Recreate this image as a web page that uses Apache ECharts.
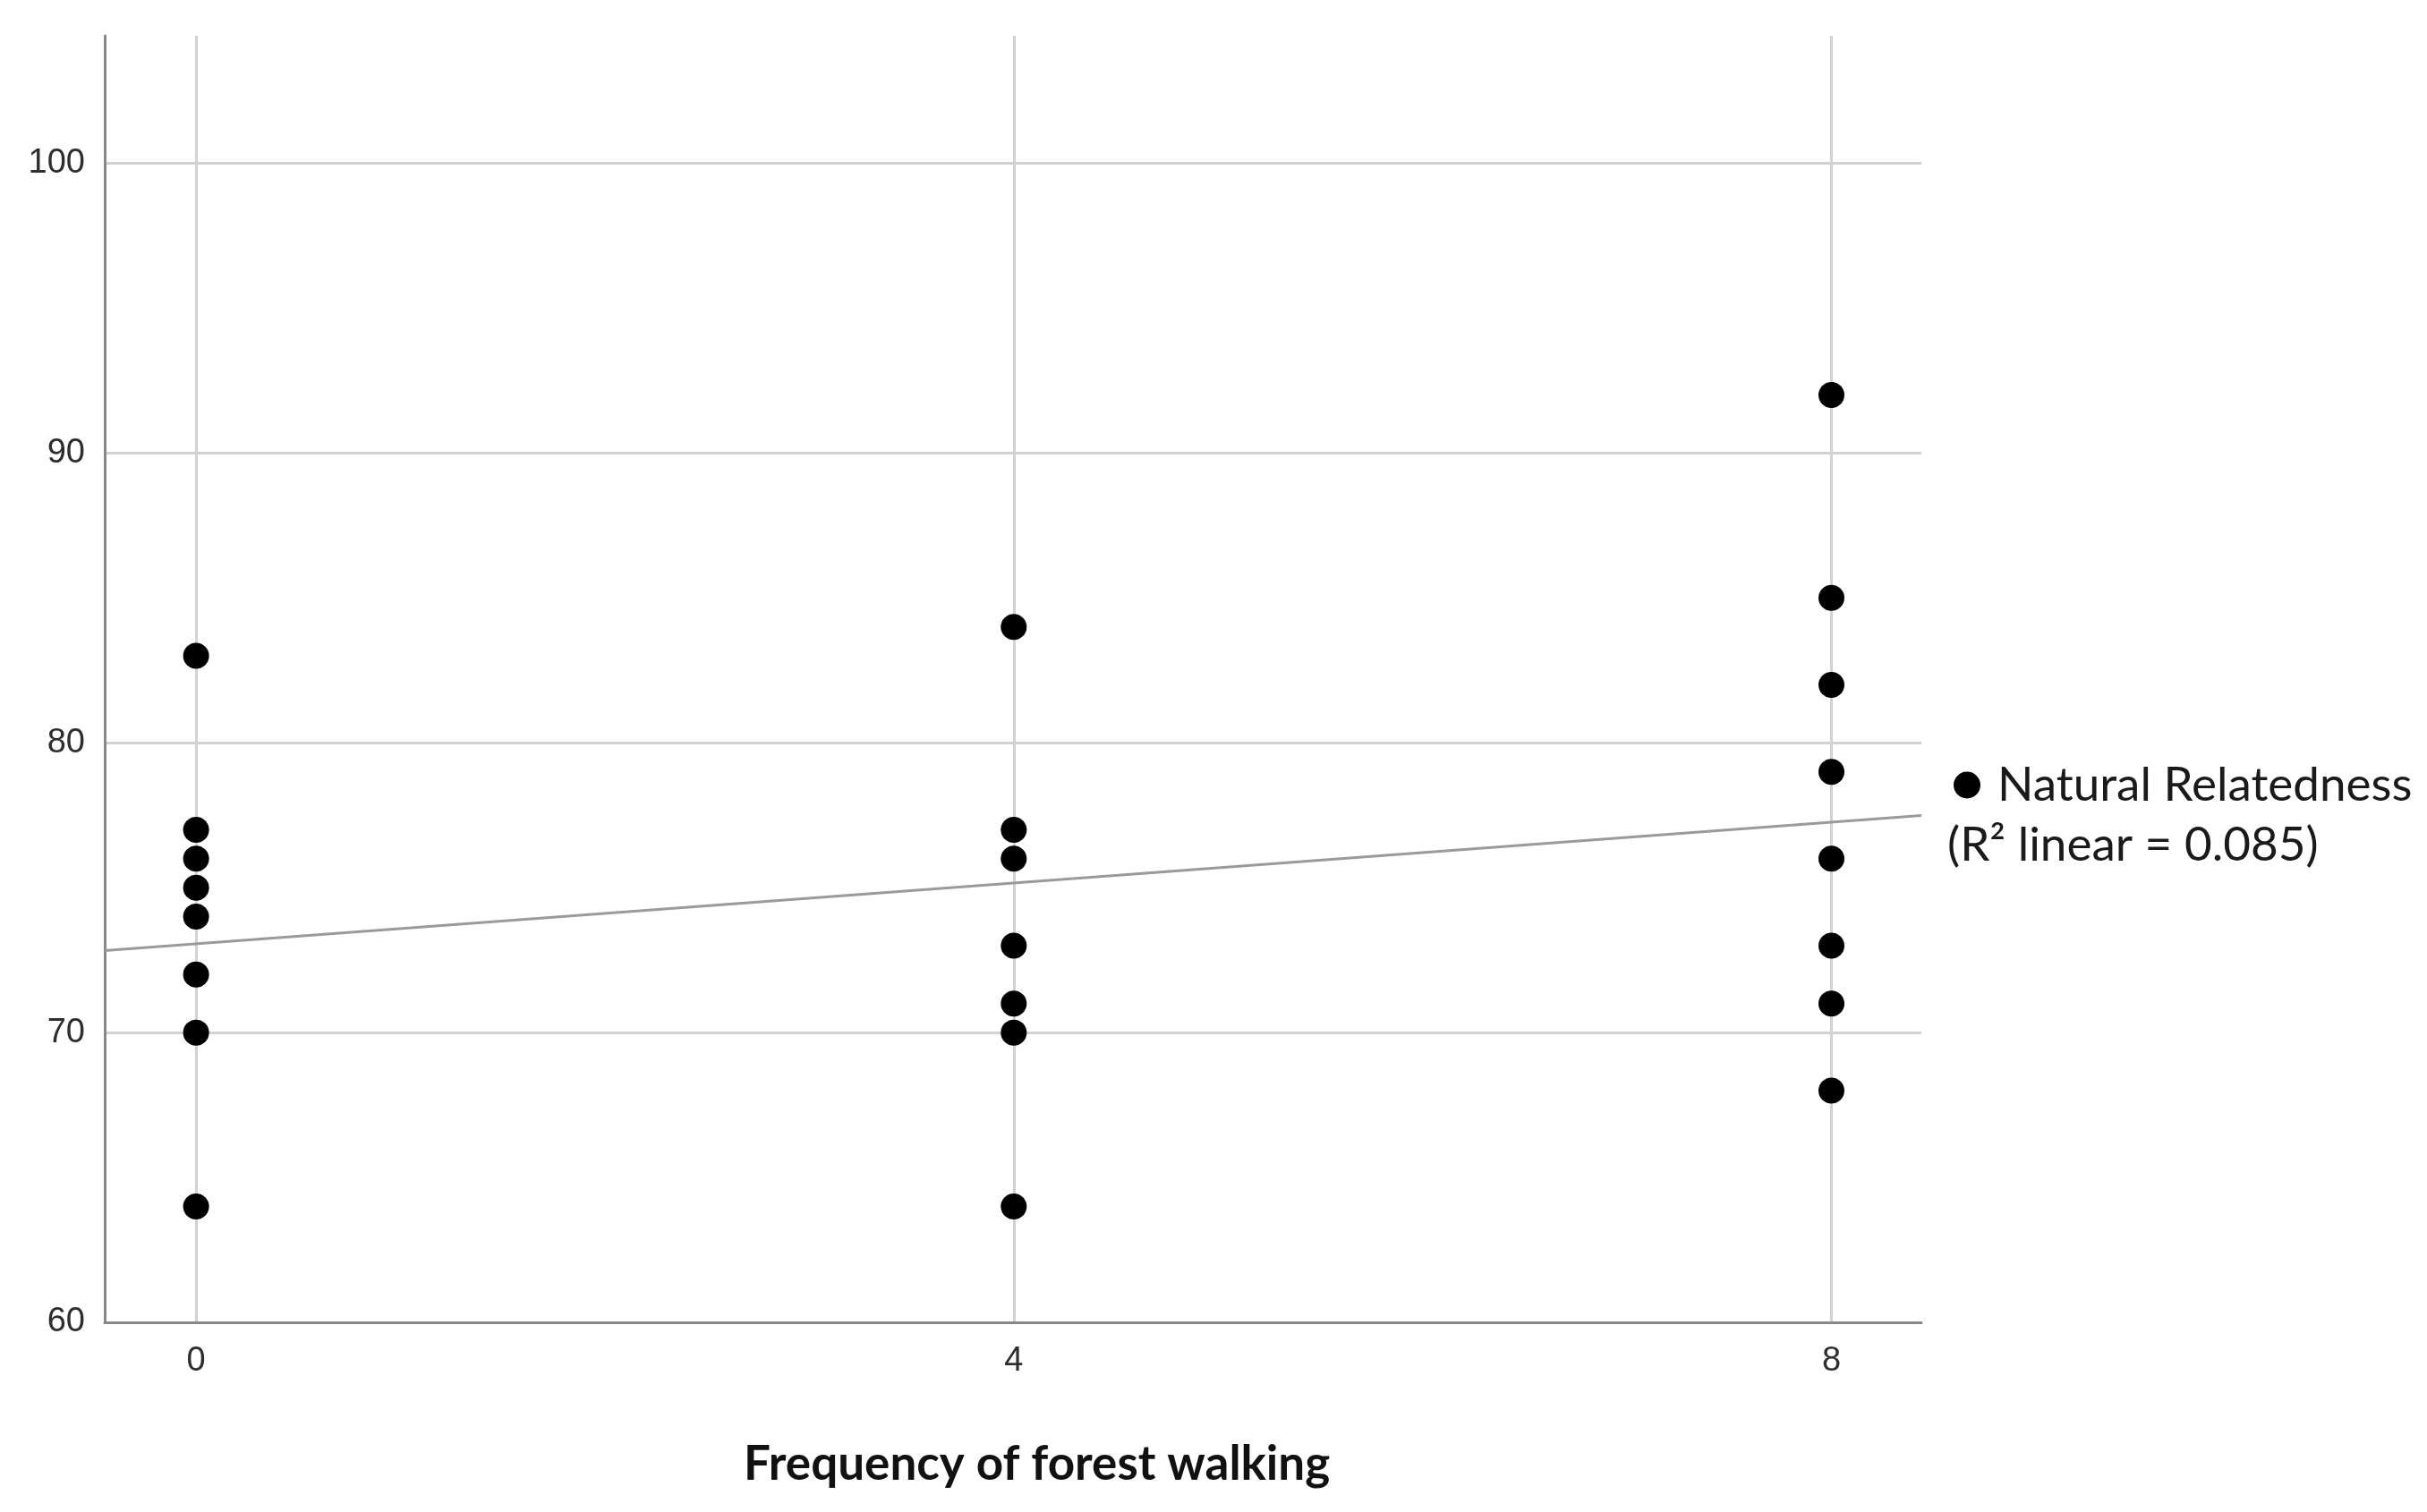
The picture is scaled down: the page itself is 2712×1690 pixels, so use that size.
<!DOCTYPE html>
<html>
<head>
<meta charset="utf-8">
<script src="https://cdn.jsdelivr.net/npm/echarts@6/dist/echarts.min.js"></script>
<style>
html,body{margin:0;padding:0;background:#fff;}
#chart{width:2712px;height:1690px;}
</style>
</head>
<body>
<div id="chart"></div>
<script>
// Data
const xTicks = [0, 4, 8];
const yTicks = [60, 70, 80, 90, 100];
const walk0 = [83, 77, 76, 75, 74, 72, 70, 64];
const walk4 = [84, 77, 76, 73, 71, 70, 64];
const walk8 = [92, 85, 82, 79, 76, 73, 71, 68];
const trendX = [-0.447, 8.44];
const trendY = [72.83, 77.49];
const seriesName = 'Natural Relatedness';
const fitLabel = '(R\u00B2 linear = 0.085)';
const xTitle = 'Frequency of forest walking';

const points = [];
walk0.forEach(v => points.push([0, v]));
walk4.forEach(v => points.push([4, v]));
walk8.forEach(v => points.push([8, v]));
const trend = trendX.map((x, i) => [x, trendY[i]]);

const chart = echarts.init(document.getElementById('chart'));
chart.setOption({
  animation: false,
  backgroundColor: '#ffffff',
  grid: { left: 117, right: 565, top: 40, bottom: 212, containLabel: false },
  xAxis: {
    type: 'value', min: trendX[0], max: trendX[1],
    axisLine: { show: true, onZero: false, lineStyle: { color: '#888888', width: 3 } },
    axisTick: { show: false, customValues: xTicks },
    axisLabel: { customValues: xTicks, margin: 25, fontSize: 38, color: '#2e2e2e', fontFamily: 'Liberation Sans' },
    splitLine: { show: true, lineStyle: { color: '#d2d2d2', width: 3 } }
  },
  yAxis: {
    type: 'value', min: 60, max: 104.4,
    axisLine: { show: true, onZero: false, lineStyle: { color: '#888888', width: 3 } },
    axisTick: { show: false, customValues: yTicks },
    axisLabel: { customValues: yTicks, margin: 22, fontSize: 38, color: '#2e2e2e', fontFamily: 'Liberation Sans' },
    splitLine: { show: true, lineStyle: { color: '#d2d2d2', width: 3 } }
  },
  legend: {
    left: 2178, top: 846, orient: 'vertical',
    icon: 'circle', itemWidth: 30, itemHeight: 30, itemGap: 10,
    textStyle: { fontSize: 53, fontFamily: 'Lato', color: '#1a1a1a', padding: [0, 0, 0, 14] },
    data: [seriesName]
  },
  graphic: [
    { type: 'text', left: 2176, top: 918, style: { text: fitLabel, fontSize: 53, fontFamily: 'Lato', fill: '#1a1a1a' } },
    { type: 'text', left: 831, top: 1610, style: { text: xTitle, fontSize: 53, fontWeight: 'bold', fontFamily: 'Lato', fill: '#111111' } }
  ],
  series: [
    {
      name: seriesName, type: 'scatter', data: points,
      symbol: 'circle', symbolSize: 29,
      itemStyle: { color: '#000000', opacity: 1 }, z: 5
    },
    {
      name: 'fit', type: 'line', data: trend, showSymbol: false, symbol: 'none',
      lineStyle: { color: '#9a9a9a', width: 3 }, z: 3, silent: true
    }
  ]
});
</script>
</body>
</html>
